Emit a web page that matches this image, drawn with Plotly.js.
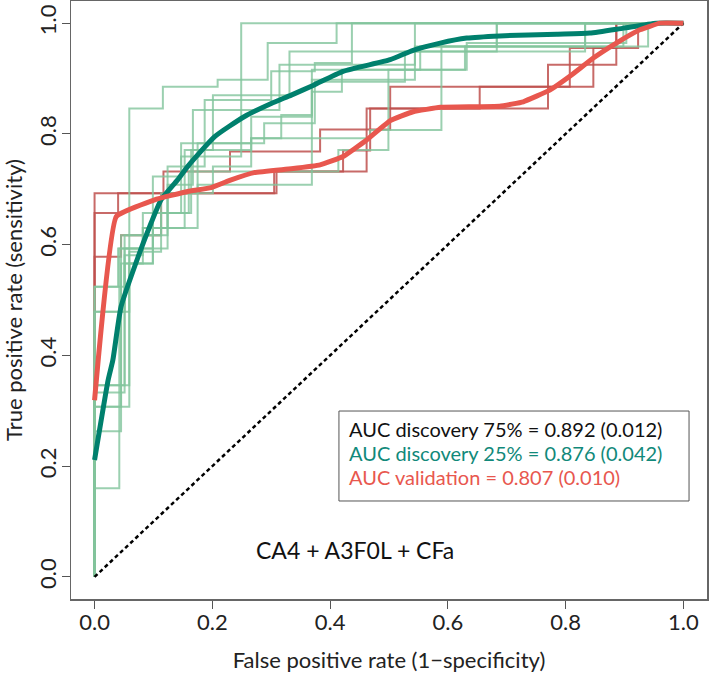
<!DOCTYPE html>
<html>
<head>
<meta charset="utf-8">
<script src="https://cdn.plot.ly/plotly-3.0.1.min.js"></script>
<style>html,body{margin:0;padding:0;background:#fff;}#chart{width:709px;height:676px;}</style>
</head>
<body>
<div id="chart"></div>
<script>
// Light-green step ROC curves (discovery resamples): [fpr, tpr] vertices, step shape
const greenCurves = [
  [[0,0],[0,0.307],[0.059,0.846],[0.116,0.885],[0.209,0.898],[0.294,0.964],[0.411,1],[1,1]],
  [[0,0],[0,0.160],[0.042,0.593],[0.099,0.723],[0.147,0.759],[0.249,1],[1,1]],
  [[0,0],[0,0.263],[0.045,0.617],[0.124,0.741],[0.187,0.861],[0.300,0.913],[0.374,0.928],[0.437,1],[1,1]],
  [[0,0],[0,0.333],[0.051,0.581],[0.082,0.630],[0.124,0.708],[0.167,0.843],[0.314,0.925],[0.544,1],[1,1]],
  [[0,0],[0,0.346],[0.051,0.566],[0.099,0.657],[0.164,0.771],[0.201,0.870],[0.331,0.949],[0.683,1],[1,1]],
  [[0,0],[0,0.479],[0.059,0.587],[0.113,0.693],[0.175,0.783],[0.266,0.792],[0.317,0.831],[0.369,0.876],[0.420,0.916],[0.629,0.958],[0.898,1],[1,1]],
  [[0,0],[0,0.524],[0.040,0.593],[0.082,0.657],[0.147,0.783],[0.288,0.819],[0.374,0.894],[0.527,0.949],[0.833,1],[1,1]],
  [[0,0],[0,0.346],[0.059,0.566],[0.099,0.630],[0.175,0.708],[0.369,0.916],[0.553,0.958],[0.683,1],[1,1]],
  [[0,0],[0,0.479],[0.051,0.617],[0.113,0.657],[0.160,0.732],[0.414,0.771],[0.499,0.916],[0.632,0.964],[0.903,1],[1,1]],
  [[0,0],[0,0.524],[0.051,0.593],[0.124,0.693],[0.201,0.741],[0.266,0.792],[0.468,0.807],[0.589,0.958],[0.833,1],[1,1]],
  [[0,0],[0,0.307],[0.045,0.566],[0.082,0.630],[0.153,0.771],[0.266,0.831],[0.317,0.834],[0.369,0.898],[0.544,0.958],[0.940,1],[1,1]]
];
// Thin red step ROC curves (validation resamples)
const redCurves = [
  [[0,0],[0,0.693],[0.117,0.732],[0.230,0.768],[0.383,0.808],[0.502,0.885],[0.847,0.955],[0.923,1],[1,1]],
  [[0,0],[0,0.657],[0.040,0.693],[0.309,0.732],[0.462,0.846],[0.654,0.885],[0.807,0.955],[0.886,1],[1,1]],
  [[0,0],[0,0.578],[0.045,0.617],[0.113,0.693],[0.305,0.732],[0.422,0.770],[0.468,0.846],[0.770,0.925],[0.886,1],[1,1]]
];
// Mean (averaged) ROC curves
const tealX = [0,0.023,0.031,0.045,0.074,0.096,0.113,0.141,0.158,0.204,0.254,0.300,0.334,0.372,0.422,0.502,0.541,0.587,0.632,0.688,0.785,0.841,0.898,0.954,1];
const tealY = [0.211,0.355,0.391,0.488,0.578,0.639,0.681,0.717,0.741,0.795,0.831,0.855,0.870,0.888,0.913,0.934,0.951,0.964,0.973,0.977,0.980,0.982,0.991,1.0,1.0];
const redX = [0,0.037,0.102,0.158,0.198,0.232,0.271,0.334,0.383,0.422,0.462,0.502,0.541,0.587,0.688,0.728,0.773,0.807,0.847,0.886,0.926,0.960,1];
const redY = [0.319,0.651,0.681,0.696,0.703,0.717,0.730,0.737,0.744,0.759,0.789,0.824,0.840,0.848,0.850,0.858,0.879,0.904,0.937,0.964,0.988,1.0,1.0];
const diagX = [0,1];
const diagY = [0,1];
const tickVals = [0,0.2,0.4,0.6,0.8,1.0];
const tickText = ["0.0","0.2","0.4","0.6","0.8","1.0"];
const legendLines = ["AUC discovery 75% = 0.892 (0.012)","AUC discovery 25% = 0.876 (0.042)","AUC validation = 0.807 (0.010)"];
const legendColors = ["#111111","#11897a","#e8574e"];
const panelLabel = "CA4 + A3F0L + CFa";

const FONT = "Lato, 'Open Sans', sans-serif";
const traces = [];
redCurves.forEach(c => traces.push({x:c.map(p=>p[0]), y:c.map(p=>p[1]), type:'scatter', mode:'lines',
  line:{color:'rgba(190,80,78,0.85)', width:2, shape:'hv'}, hoverinfo:'skip'}));
greenCurves.forEach(c => traces.push({x:c.map(p=>p[0]), y:c.map(p=>p[1]), type:'scatter', mode:'lines',
  line:{color:'rgba(130,196,156,0.8)', width:2, shape:'hv'}, hoverinfo:'skip'}));
traces.push({x:diagX, y:diagY, type:'scatter', mode:'lines', line:{color:'#000', width:2.5, dash:'4px,3px'}});
traces.push({x:tealX, y:tealY, type:'scatter', mode:'lines', line:{color:'#00806d', width:5, shape:'spline', smoothing:0.5}});
traces.push({x:redX, y:redY, type:'scatter', mode:'lines', line:{color:'#e8574e', width:5, shape:'spline', smoothing:0.3}});

const ann = legendLines.map((t,i)=>({x:0.4294, y:[0.2669,0.2235,0.1802][i], xref:'x', yref:'y', text:t,
  showarrow:false, xanchor:'left', yanchor:'middle', font:{family:FONT, size:20, color:legendColors[i]}}));
ann.push({x:0.4415, y:0.0484, xref:'x', yref:'y', text:panelLabel, showarrow:false, xanchor:'center', yanchor:'middle',
  font:{family:FONT, size:23, color:'#111'}});

const axisCommon = {range:[-0.04,1.04], tickvals:tickVals, ticktext:tickText, ticks:'outside', ticklen:8, tickwidth:1,
  tickcolor:'#555', showline:true, linecolor:'#666', linewidth:1.5, mirror:true, showgrid:false, zeroline:false,
  tickfont:{family:FONT, size:22, color:'#222'}};

const layout = {
  width:709, height:676, margin:{l:71, r:2, t:1, b:77}, showlegend:false,
  paper_bgcolor:'#fff', plot_bgcolor:'#fff',
  xaxis:Object.assign({}, axisCommon, {ticklabelstandoff:-5, title:{text:'False positive rate (1\u2212specificity)', font:{family:FONT, size:22, color:'#222'}, standoff:18}}),
  yaxis:Object.assign({}, axisCommon, {tickangle:-90, ticklabelstandoff:-3, title:{text:'True positive rate (sensitivity)', font:{family:FONT, size:22, color:'#222'}, standoff:12}}),
  shapes:[{type:'rect', xref:'x', yref:'y', x0:0.415, x1:1.0095, y0:0.137, y1:0.2995, line:{color:'#555', width:1}, fillcolor:'rgba(0,0,0,0)'}],
  annotations:ann
};
Plotly.newPlot('chart', traces, layout, {displayModeBar:false, staticPlot:true});
</script>
</body>
</html>
